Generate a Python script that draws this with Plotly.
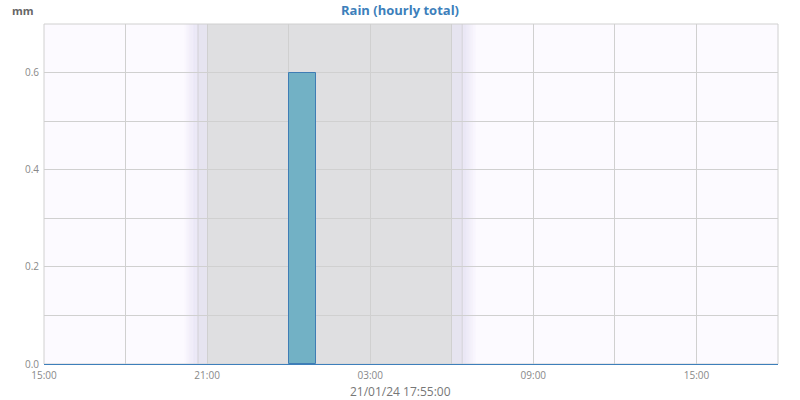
import plotly.graph_objects as go
from datetime import datetime, timedelta

# ---- data ----
hour_starts = [datetime(2024, 1, 20, 15) + timedelta(hours=i) for i in range(27)]
rain_mm = [0.0] * 27
rain_mm[9] = 0.6  # 2024-01-21 00:00-01:00

x_start = "2024-01-20 15:00"
x_end = "2024-01-21 18:00"
y_max = 0.7

# night / twilight bands (times)
dusk_fade_start = datetime(2024, 1, 20, 20, 10)
dusk_start = datetime(2024, 1, 20, 20, 40)
night_start = datetime(2024, 1, 20, 21, 2)
night_end = datetime(2024, 1, 21, 6, 0)
dawn_end = datetime(2024, 1, 21, 6, 23)
dawn_fade_end = datetime(2024, 1, 21, 6, 53)

title_text = "Rain (hourly total)"
unit_text = "mm"
xlabel_text = "21/01/24 17:55:00"

bar_x = [t + timedelta(minutes=30) for t in hour_starts]
outline_w = [1 if v > 0 else 0 for v in rain_mm]

fig = go.Figure()
fig.add_trace(go.Bar(
    x=bar_x, y=rain_mm, width=3600000,
    marker=dict(color="#72b1c5", line=dict(color="#3f7db4", width=outline_w)),
    hoverinfo="skip",
))

shapes = []
def rect(x0, x1, color, opacity=1.0):
    shapes.append(dict(type="rect", xref="x", yref="paper", x0=x0, x1=x1, y0=0, y1=1,
                       fillcolor=color, opacity=opacity, line=dict(width=0), layer="below"))

# gradient fades
n = 10
for i in range(n):
    a0 = dusk_fade_start + (dusk_start - dusk_fade_start) * i / n
    a1 = dusk_fade_start + (dusk_start - dusk_fade_start) * (i + 1) / n
    rect(a0, a1, "#e4e0f2", (i + 1) / (n + 1))
    b0 = dawn_end + (dawn_fade_end - dawn_end) * i / n
    b1 = dawn_end + (dawn_fade_end - dawn_end) * (i + 1) / n
    rect(b0, b1, "#e4e0f2", (n - i) / (n + 1))
rect(dusk_start, night_start, "#e6e4f0")
rect(night_end, dawn_end, "#e6e4f0")
rect(night_start, night_end, "#dfdfe1")
for t in [dusk_start, dawn_end]:
    shapes.append(dict(type="line", xref="x", yref="paper", x0=t, x1=t, y0=0, y1=1,
                       line=dict(color="#d4d2d8", width=1), layer="below"))
shapes.append(dict(type="rect", xref="paper", yref="paper", x0=0, x1=1, y0=0, y1=1,
                   line=dict(color="#d0d0d0", width=1), fillcolor="rgba(0,0,0,0)", layer="below"))

fig.update_layout(
    width=800, height=400,
    margin=dict(l=44, r=22, t=24, b=36, autoexpand=False),
    paper_bgcolor="white",
    plot_bgcolor="#fcfaff",
    font=dict(family="Open Sans", color="#888888", size=10),
    showlegend=False,
    bargap=0,
    shapes=shapes,
    title=dict(text="<b>" + title_text + "</b>", x=0.5, xanchor="center", y=0.975, yanchor="middle",
               font=dict(family="Open Sans", size=13, color="#3d7fbb")),
    annotations=[
        dict(text="<b>" + unit_text + "</b>", xref="paper", yref="paper", x=-0.047, y=1.041,
             xanchor="left", yanchor="middle", showarrow=False,
             font=dict(family="Open Sans", size=11, color="#666666")),
        dict(text=xlabel_text, xref="paper", yref="paper", x=(400 - 44) / 734, y=-0.082,
             xanchor="center", yanchor="middle", showarrow=False,
             font=dict(family="Open Sans", size=12, color="#777777")),
    ],
    xaxis=dict(
        type="date", range=[x_start, x_end], automargin=False,
        tick0="2024-01-20 15:00", dtick=6 * 3600000, tickformat="%H:%M",
        showgrid=True, gridcolor="#d0d0d0", gridwidth=1,
        minor=dict(dtick=3 * 3600000, tick0="2024-01-20 15:00", showgrid=True, gridcolor="#d0d0d0"),
        showline=True, linecolor="#3d7fbb", linewidth=1,
        ticks="", tickfont=dict(size=10, color="#888888"),
        ticklabelstandoff=2,
        zeroline=False,
    ),
    yaxis=dict(
        range=[0, y_max], dtick=0.2, tick0=0, tickformat=".1f", automargin=False,
        showgrid=True, gridcolor="#d0d0d0",
        minor=dict(dtick=0.1, showgrid=True, gridcolor="#d0d0d0"),
        zeroline=False, ticks="", tickfont=dict(size=10, color="#888888"),
        ticklabelstandoff=4,
    ),
)

fig.write_html("out.html", config={"displayModeBar": False},
               post_script="document.body.style.margin='0';document.body.style.overflow='hidden';")
